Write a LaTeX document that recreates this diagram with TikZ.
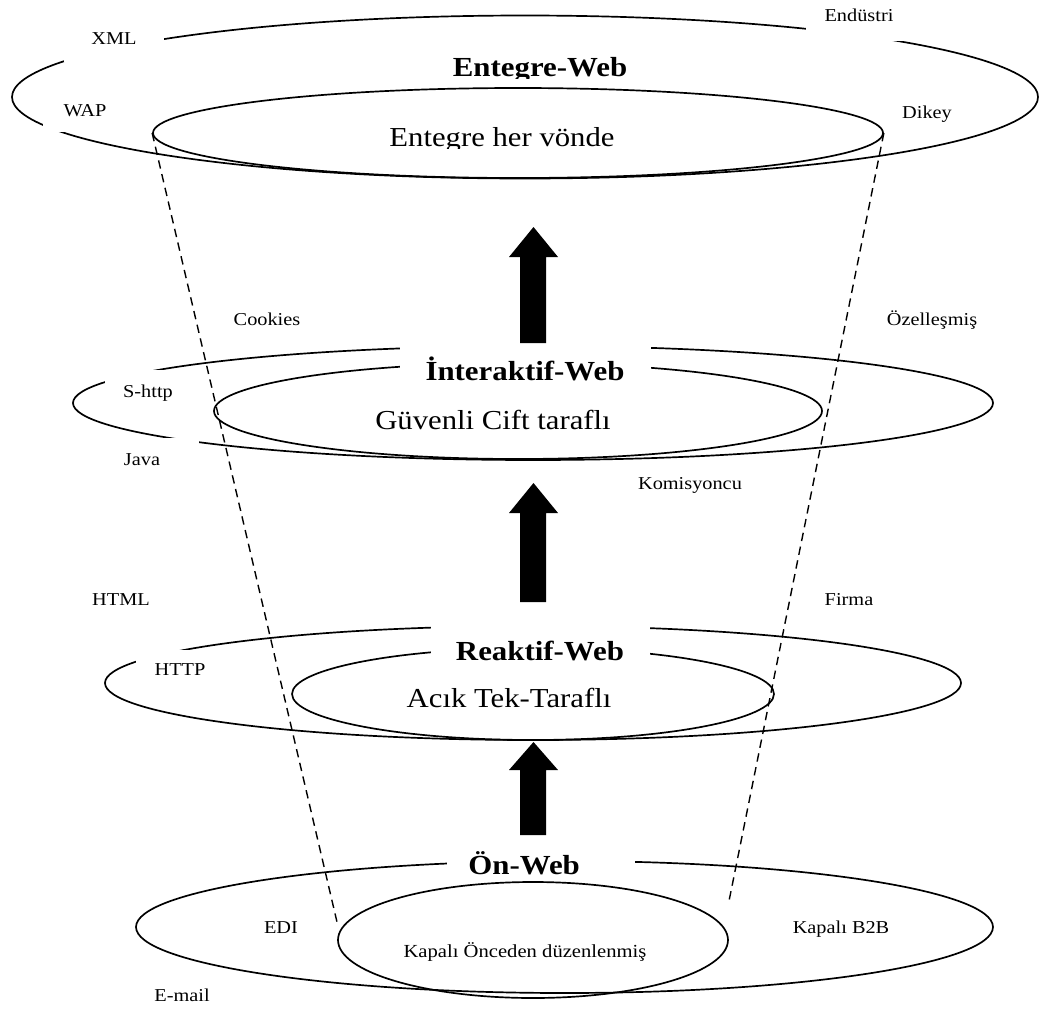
\documentclass[tikz,border=0pt]{standalone}
\usepackage{fontspec}
\setmainfont{Liberation Serif}[FakeStretch=1.12]
\usetikzlibrary{shapes.geometric}
\newcommand\pxu{0.025cm}
\tikzset{
 ring/.style 2 args={draw, ellipse, line width=1.2pt, inner sep=0pt, minimum width=#1*\pxu, minimum height=#2*\pxu},
 lbl/.style 2 args={fill=white, inner sep=0pt, minimum width=#1*\pxu, minimum height=#2*\pxu, font=\fontsize{12.9}{15}\selectfont, text height=8.5pt, text depth=0pt},
 ttl/.style 2 args={fill=white, inner sep=0pt, minimum width=#1*\pxu, minimum height=#2*\pxu, font=\fontsize{19.6}{22}\selectfont\bfseries, text height=13pt, text depth=0pt},
 inn/.style={inner sep=0pt, font=\fontsize{19.5}{22}\selectfont, text height=12.9pt, text depth=0pt},
 smallinn/.style={inner sep=0pt, font=\fontsize{13.1}{15}\selectfont, text height=8.7pt, text depth=0pt},
 funnel/.style={dash pattern=on 6pt off 4pt, line width=1pt},
 blk/.style={fill=black},
}
\begin{document}
\begin{tikzpicture}[x=\pxu, y=-\pxu]
\useasboundingbox (0,0) rectangle (1040,1014);
% ellipses
\node[ring={1026}{163}] (e1o) at (525,97) {};
\node[ring={730}{90}] (e1i) at (518,133) {};
\node[ring={920}{114}] (e2o) at (533,403) {};
\node[ring={608}{96}] (e2i) at (518,411) {};
\node[ring={856}{114}] (e3o) at (533,683) {};
\node[ring={482}{92}] (e3i) at (533,694) {};
\node[ring={857}{132}] (e4o) at (564.5,927) {};
\node[ring={390}{116}] (e4i) at (533,940) {};
% funnel
\coordinate (dl) at (337,922);
\coordinate (dr) at (729,901);
\draw[funnel] (e1i.west) -- (dl);
\draw[funnel] (e1i.east) -- (dr);
% side labels
\node[lbl={100}{46}] (xml) at (114,39) {XML};
\node[lbl={84}{42}] (wap) at (85,111) {WAP};
\node[lbl={106}{50}] (endu) at (859,16) {Endüstri};
\node[lbl={80}{40}] (dikey) at (927,113) {Dikey};
\node[lbl={90}{36}] (cook) at (267,320) {Cookies};
\node[lbl={86}{44}] (shttp) at (148,392) {S-http};
\node[lbl={114}{44}] (java) at (142,460) {Java};
\node[lbl={120}{36}] (ozel) at (932,320) {Özelleşmiş};
\node[lbl={130}{36}] (komi) at (690,484) {Komisyoncu};
\node[lbl={80}{36}] (html) at (121,600) {HTML};
\node[lbl={88}{40}] (http) at (180,670) {HTTP};
\node[lbl={70}{36}] (firma) at (849,600) {Firma};
\node[lbl={60}{34}] (edi) at (281,928) {EDI};
\node[lbl={70}{30}] (email) at (182,996) {E-mail};
\node[lbl={110}{34}] (b2b) at (841,928) {Kapalı B2B};
% titles
\begin{scope}
\clip (0,0) rectangle (1040,78.5);
\node[inner sep=0pt, font=\fontsize{19.6}{22}\selectfont\bfseries, text height=13pt, text depth=0pt] (t1) at (540,67.5) {Entegre-Web};
\end{scope}
\node[ttl={251}{52}] (t2) at (525,371) {İnteraktif-Web};
\node[ttl={219}{56}] (t3) at (540,651) {Reaktif-Web};
\node[ttl={188}{30}] (t4) at (541,865) {Ön-Web\hspace*{24pt}};
% inner texts
\begin{scope}
\clip (0,0) rectangle (1040,148);
\node[inn] (s1) at (502,137.5) {Entegre her vönde};
\end{scope}
\node[inn] (s2) at (493,420) {Güvenli Cift taraflı};
\node[inn] (s3) at (509,698.5) {Acık Tek-Taraflı};
\node[smallinn] (s4) at (525,951.5) {Kapalı Önceden düzenlenmiş};
% block arrows
\fill[blk] (520,343) -- (520,257) -- (509,257) -- (533.5,227) -- (558,257) -- (546,257) -- (546,343) -- cycle;
\fill[blk] (520,602) -- (520,513) -- (509,513) -- (533.5,483) -- (558,513) -- (546,513) -- (546,602) -- cycle;
\fill[blk] (520,835) -- (520,770) -- (509,770) -- (533.5,742) -- (558,770) -- (546,770) -- (546,835) -- cycle;
\end{tikzpicture}
\end{document}
